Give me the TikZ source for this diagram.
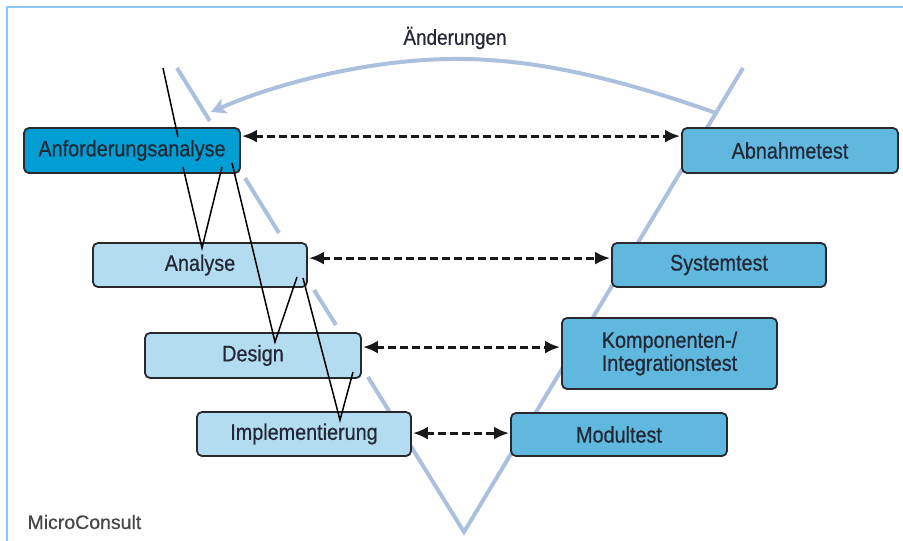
\documentclass[tikz,border=0pt]{standalone}
\usepackage{fontspec}
\setmainfont{Liberation Sans}
\newfontfamily\condfont{Liberation Sans}[FakeStretch=0.88,FakeBold=0.6]
\newfontfamily\mcfont{Liberation Sans}[FakeBold=0.6]
\usetikzlibrary{arrows.meta}
\definecolor{frameblue}{RGB}{140,200,245}
\definecolor{vblue}{RGB}{172,192,222}
\definecolor{darkcyan}{RGB}{0,158,210}
\definecolor{lightbox}{RGB}{180,220,241}
\definecolor{testbox}{RGB}{96,184,222}
\definecolor{txt}{RGB}{35,40,55}
\definecolor{bord}{RGB}{40,40,45}
\begin{document}
\begin{tikzpicture}[x=1pt,y=-1pt,
  box/.style={draw=bord,line width=1.8pt,rounded corners=5pt,inner sep=0pt,
    text=txt,font=\condfont\fontsize{22.5}{23}\selectfont,align=center},
  devbox/.style={box,fill=lightbox},
  topbox/.style={box,fill=darkcyan},
  testboxst/.style={box,fill=testbox},
  vline/.style={draw=vblue,line width=4pt},
  flow/.style={draw=black,line width=1.5pt},
  dar/.style={draw=black!90,line width=3pt,dash pattern=on 8pt off 4pt,
    shorten <=1pt,shorten >=1pt,
    {Latex[length=15pt,width=13pt]}-{Latex[length=15pt,width=13pt]}}
]
\useasboundingbox (0,0) rectangle (903,541);
% frame
\draw[frameblue,line width=1.6pt] (7,541) -- (7,7) -- (903,7);

% V model lines
\coordinate (v1a) at (177,68);  \coordinate (v1b) at (209.8,121);
\coordinate (v2a) at (245,178); \coordinate (v2b) at (279,233);
\coordinate (v3a) at (314,290); \coordinate (v3b) at (336,325);
\coordinate (v4a) at (368,377); \coordinate (vbot) at (464,532);
\coordinate (vtop) at (743,68);
\coordinate (chg) at (716,113);
\draw[vline] (v1a) -- (v1b);
\draw[vline] (v2a) -- (v2b);
\draw[vline] (v3a) -- (v3b);
\draw[vline,line join=miter] (v4a) -- (vbot) -- (vtop);

% change arrow
\coordinate (chgend) at (211,112);
\draw[vline,-{Stealth[length=15pt,width=16pt,inset=4pt]}] (chg)
  .. controls (600,72) and (520,58) .. (450,59)
  .. controls (370,60) and (280,82) .. (chgend);
\node[font=\condfont\fontsize{21.5}{23}\selectfont,text=txt] (lbl) at (455,38) {Änderungen};

% boxes
\node[topbox,minimum width=216pt,minimum height=45pt] (anf) at (132,150.5) {Anforderungsanalyse};
\node[devbox,minimum width=214pt,minimum height=44pt] (ana) at (200,265) {Analyse};
\node[devbox,minimum width=216pt,minimum height=45pt] (des) at (253,355.5) {Design};
\node[devbox,minimum width=214pt,minimum height=44pt] (imp) at (304,434) {Implementierung};

\node[testboxst,minimum width=216pt,minimum height=45pt] (abn) at (790,150.5) {Abnahmetest};
\node[testboxst,minimum width=214pt,minimum height=44pt] (sys) at (719,265) {Systemtest};
\node[testboxst,minimum width=215pt,minimum height=71pt] (komp) at (669.5,353.5) {Komponenten-/\\Integrationstest};
\node[testboxst,minimum width=216pt,minimum height=43pt] (mod) at (619,434.5) {Modultest};

% dashed double arrows
\coordinate (a1) at ([yshift=-9pt]anf.north east);
\coordinate (a2) at ([yshift=-16pt]ana.north east);
\coordinate (a3) at ([yshift=-15pt]des.north east);
\coordinate (a4) at ([yshift=-22pt]imp.north east);
\draw[dar] (a1) -- (a1 -| abn.west);
\draw[dar] (a2) -- (a2 -| sys.west);
\draw[dar] (a3) -- (a3 -| komp.west);
\draw[dar] (a4) -- (a4 -| mod.west);

% waterfall flow lines
\coordinate (f0) at (163,68);  \coordinate (f1) at (178,137);
\coordinate (f2) at (183,167); \coordinate (f3) at (202,248); \coordinate (f4) at (222,167);
\coordinate (f5) at (232,163); \coordinate (f6) at (275,342); \coordinate (f7) at (297,277);
\coordinate (f8) at (303,278); \coordinate (f9) at (340,420); \coordinate (f10) at (353,372);
\draw[flow] (f0) -- (f1);
\draw[flow,line join=miter] (f2) -- (f3) -- (f4);
\draw[flow,line join=miter] (f5) -- (f6) -- (f7);
\draw[flow,line join=miter] (f8) -- (f9) -- (f10);

\node[font=\mcfont\fontsize{19.5}{21}\selectfont,text=black!72,anchor=west] (mc) at (24,522) {MicroConsult};
\end{tikzpicture}
\end{document}
